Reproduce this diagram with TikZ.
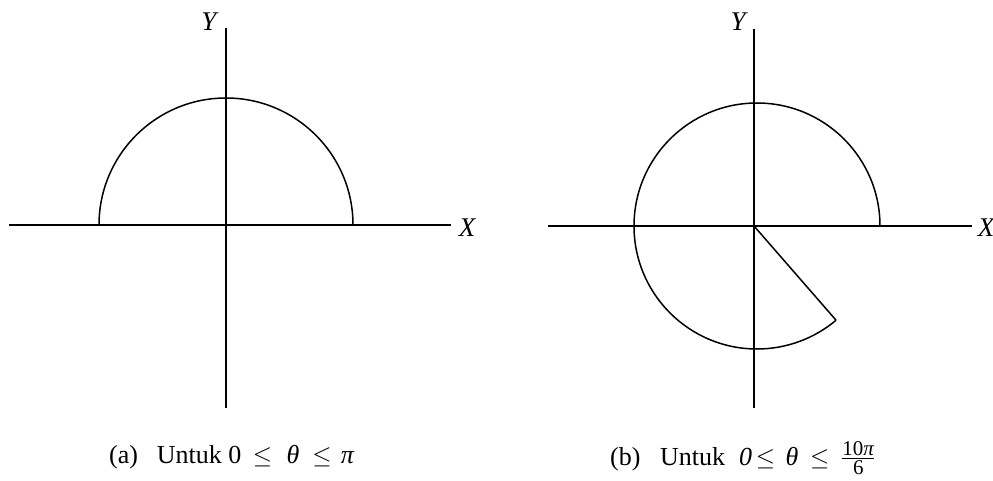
\documentclass[tikz,border=0pt]{standalone}
\usepackage{fontspec}
\setmainfont{Liberation Serif}
\usepackage{amsmath}
\usetikzlibrary{calc}
\tikzset{
  axisline/.style={line width=1.5pt},
  curveline/.style={line width=1.5pt},
  axislabel/.style={font=\fontsize{27}{30}\selectfont\itshape, inner sep=0pt},
  caption/.style={font=\fontsize{26}{30}\selectfont, anchor=base west, inner sep=0pt}
}
\newcommand{\smallfr}[1]{\text{\fontsize{21}{21}\selectfont #1}}

\begin{document}
\begin{tikzpicture}[x=1pt,y=1pt]
        \useasboundingbox (0,0) rectangle (993,480);

        % Left side (upper half circle)
        \coordinate (o1) at (226, 255);
        \coordinate (xa1) at (9, 255);
        \coordinate (xb1) at (451, 255);
        \coordinate (ya1) at (226, 72);
        \coordinate (yb1) at (226, 452);

        \draw[axisline] (xa1) -- (xb1);
        \draw[axisline] (ya1) -- (yb1);
        \draw[curveline] ($(o1)+(127,0)$) arc (0:180:127);

        \node[axislabel] (ylab1) at (209, 458) {Y};
        \node[axislabel] (xlab1) at (467, 252) {X};

        % Right side (circle up to 10pi/6)
        \coordinate (o2) at (754, 254);
        \coordinate (c2) at (757, 254);
        \coordinate (xa2) at (548, 254);
        \coordinate (xb2) at (972, 254);
        \coordinate (ya2) at (754, 72);
        \coordinate (yb2) at (754, 451);

        \draw[axisline] (xa2) -- (xb2);
        \draw[axisline] (ya2) -- (yb2);
        \draw[curveline] ($(c2)+(123,0)$) arc (0:310:123) coordinate (e2);
        \draw[curveline] (o2) -- (e2);

        \node[axislabel] (ylab2) at (738, 458) {Y};
        \node[axislabel] (xlab2) at (986, 252) {X};

        % Captions
        \node[caption] (capa) at (109, 17)
          {(a)\hspace{0.72em}Untuk 0\hspace{0.45em}$\leq$\hspace{0.55em}\textit{θ}\hspace{0.5em}$\leq$\hspace{0.35em}\textit{π}};
        \node[caption] (capb) at (610, 15)
          {(b)\hspace{0.75em}Untuk\hspace{0.54em}\textit{0}\hspace{0.15em}$\leq$\hspace{0.4em}\textit{θ}\hspace{0.45em}$\leq$\hspace{0.45em}$\genfrac{}{}{1.1pt}{}{\smallfr{10\textit{π}}}{\smallfr{6}}$};
\end{tikzpicture}
\end{document}
